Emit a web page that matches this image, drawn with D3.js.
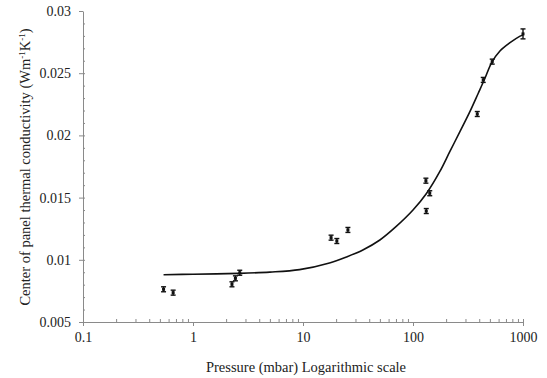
<!DOCTYPE html>
<meta charset="utf-8">
<style>
body { margin: 0; background: #fff; }
svg text { font-family: "Liberation Serif", "Times New Roman", serif; fill: #222; }
.axis path, .axis line { stroke: #8a8a8a; stroke-width: 1px; }
.axis text { font-size: 14px; }
.fit { fill: none; stroke: #111; stroke-width: 1.6px; }
.err line { stroke: #111; stroke-width: 1.4px; }
</style>
<body>
<script src="https://d3js.org/d3.v7.min.js"></script>
<script>
// measured points (pressure in mbar, conductivity in W/mK, error)
var pressure = [0.54, 0.66, 2.26, 2.43, 2.66, 18.0, 20.3, 25.6, 131, 142, 132, 384, 435, 525, 1000];
var conductivity = [0.00763, 0.00736, 0.00803, 0.00851, 0.00896, 0.01178, 0.01151, 0.0124,
                    0.01636, 0.01535, 0.01392, 0.02172, 0.02446, 0.02593, 0.02816];
var errors = [0.0002, 0.0002, 0.0002, 0.0002, 0.0002, 0.0002, 0.0002, 0.0002,
              0.0002, 0.0002, 0.0002, 0.0002, 0.0002, 0.0002, 0.0004];

// fitted curve
var fitPressure = [0.54, 1, 2.6, 5, 9.3, 17.4, 24.8, 35, 50, 70, 100, 133, 175, 216, 267, 329,
                   392, 451, 519, 617, 762, 940, 1000];
var fitConductivity = [0.0088, 0.00884, 0.00891, 0.00901, 0.00921, 0.00975, 0.01023, 0.01079,
                       0.01159, 0.01266, 0.0140, 0.01535, 0.01708, 0.01869, 0.0203, 0.02191,
                       0.02339, 0.02459, 0.02585, 0.02678, 0.02745, 0.02798, 0.02808];

// tick labels
var xTicks = [0.1, 1, 10, 100, 1000];
var yTicks = [0.005, 0.01, 0.015, 0.02, 0.025, 0.03];

var width = 547, height = 378;
var x = d3.scaleLog().domain([0.1, 1000]).range([83, 523]);
var y = d3.scaleLinear().domain([0.005, 0.03]).range([322, 11]);

var svg = d3.select("body").append("svg")
    .attr("width", width)
    .attr("height", height);

// x axis, major ticks below and minor ticks above
svg.append("g")
    .attr("class", "x axis")
    .attr("transform", "translate(0,322)")
    .call(d3.axisBottom(x).tickValues(xTicks).tickSize(4).tickPadding(6)
        .tickSizeOuter(0).tickFormat(d3.format("")));

svg.append("g")
    .attr("class", "axis")
    .attr("transform", "translate(0,322)")
    .call(d3.axisTop(x).tickValues(x.ticks().filter(function(d) { return xTicks.indexOf(d) < 0; }).concat([1000]))
        .tickSize(3).tickSizeOuter(0).tickFormat(""))
    .select(".domain").remove();

// y axis
svg.append("g")
    .attr("class", "y axis")
    .attr("transform", "translate(83,0)")
    .call(d3.axisLeft(y).tickValues(yTicks).tickSize(4).tickPadding(8)
        .tickSizeOuter(0).tickFormat(function(d, i) { return String(yTicks[i]); }));

svg.append("g")
    .attr("class", "axis")
    .attr("transform", "translate(83,0)")
    .call(d3.axisRight(y).tickValues(d3.range(6, 30).map(function(d) { return d / 1000; }))
        .tickSize(2).tickSizeOuter(0).tickFormat(""))
    .select(".domain").remove();

// fitted curve
var line = d3.line()
    .x(function(d, i) { return x(fitPressure[i]); })
    .y(function(d) { return y(d); })
    .curve(d3.curveCatmullRom.alpha(0.5));

svg.append("path")
    .attr("class", "fit")
    .attr("d", line(fitConductivity));

// data points with error bars
var pts = svg.selectAll(".err")
    .data(conductivity)
  .enter().append("g")
    .attr("class", "err")
    .attr("transform", function(d, i) { return "translate(" + x(pressure[i]) + ",0)"; });

pts.append("line")
    .attr("x1", 0).attr("x2", 0)
    .attr("y1", function(d, i) { return y(d - errors[i]); })
    .attr("y2", function(d, i) { return y(d + errors[i]); });
pts.append("line")
    .attr("x1", -2.5).attr("x2", 2.5)
    .attr("y1", function(d, i) { return y(d - errors[i]); })
    .attr("y2", function(d, i) { return y(d - errors[i]); });
pts.append("line")
    .attr("x1", -2.5).attr("x2", 2.5)
    .attr("y1", function(d, i) { return y(d + errors[i]); })
    .attr("y2", function(d, i) { return y(d + errors[i]); });
pts.append("rect")
    .attr("x", -1.5).attr("width", 3)
    .attr("y", function(d) { return y(d) - 1.5; })
    .attr("height", 3)
    .attr("fill", "#111");

// axis titles
svg.append("text")
    .attr("x", 306)
    .attr("y", 372)
    .attr("text-anchor", "middle")
    .style("font-size", "14.5px")
    .text("Pressure (mbar) Logarithmic scale");

var yl = svg.append("text")
    .attr("transform", "translate(30,167) rotate(-90)")
    .attr("text-anchor", "middle")
    .style("font-size", "14.5px");
yl.append("tspan").text("Center of panel thermal conductivity (Wm");
yl.append("tspan").attr("dy", -5).style("font-size", "9px").text("-1");
yl.append("tspan").attr("dy", 5).text("K");
yl.append("tspan").attr("dy", -5).style("font-size", "9px").text("-1");
yl.append("tspan").attr("dy", 5).text(")");
</script>
</body>
